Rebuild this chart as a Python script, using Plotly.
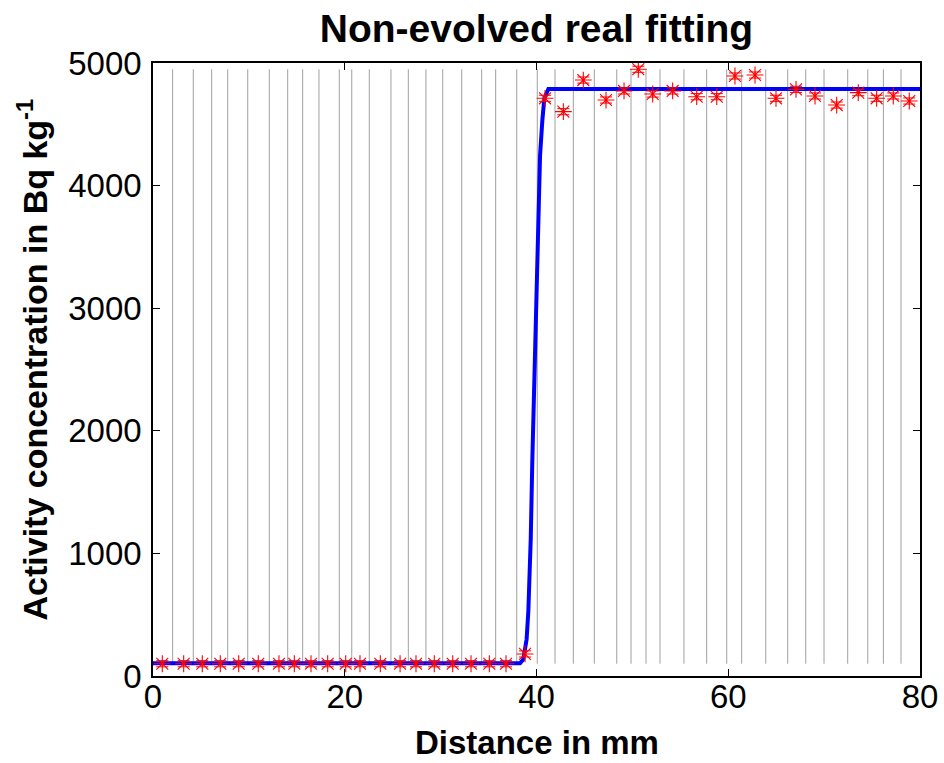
import plotly.graph_objects as go

# Slice centres (mm) and measured activity (Bq/kg)
dist_mm = [0.97, 3.2, 5.14, 7.02, 8.94, 10.98, 13.14, 14.74, 16.48, 18.22,
           20.1, 21.59, 23.71, 25.77, 27.43, 29.34, 31.26, 33.17, 35.08, 36.82,
           38.8, 40.89, 42.8, 44.88, 47.25, 49.13, 50.62, 52.12, 54.2, 56.71,
           58.8, 60.7, 62.79, 64.98, 67.07, 69.05, 71.31, 73.56, 75.48, 77.21,
           78.88]
activity = [100, 100, 100, 100, 100, 100, 100, 100, 100, 100,
            100, 100, 100, 100, 100, 100, 100, 100, 100, 100,
            180, 4712, 4603, 4861, 4698, 4772, 4949, 4747, 4772, 4725,
            4725, 4894, 4902, 4712, 4785, 4731, 4657, 4758, 4712, 4731,
            4690]
err = [25] * len(activity)

# Slice boundaries (mm)
boundaries = [2.05, 4.2, 6.12, 7.79, 9.88, 12.13, 14.05, 15.61, 17.31, 19.43,
              20.73, 22.56, 24.82, 26.63, 28.47, 30.22, 32.2, 34.28, 35.74,
              37.94, 40.08, 41.93, 43.84, 46.03, 48.37, 49.86, 51.42, 52.88,
              55.38, 57.75, 59.84, 61.4, 63.91, 66.2, 68.08, 69.99, 72.46,
              74.55, 76.18, 78.02]

# Fitted curve
fit_x = [0, 38.28, 38.62, 38.97, 39.15, 39.4, 39.56, 39.77, 39.95, 40.19,
         40.37, 40.61, 40.82, 41.24, 80]
fit_y = [103, 103, 135, 300, 530, 1120, 1743, 2432, 3138, 3777,
         4244, 4533, 4713, 4788, 4788]

x_ticks = [0, 20, 40, 60, 80]
y_ticks = [0, 1000, 2000, 3000, 4000, 5000]

y_lo, y_hi = min(activity), max(activity)
bx, by = [], []
for b in boundaries:
    bx += [b, b, None]
    by += [y_lo, y_hi, None]

fig = go.Figure()
fig.add_trace(go.Scatter(x=bx, y=by, mode="lines",
                         line=dict(color="rgb(160,160,160)", width=1),
                         hoverinfo="skip", showlegend=False))
fig.add_trace(go.Scatter(x=fit_x, y=fit_y, mode="lines",
                         line=dict(color="rgb(0,0,255)", width=4),
                         showlegend=False))
fig.add_trace(go.Scatter(x=dist_mm, y=activity, mode="markers",
                         marker=dict(symbol="asterisk-open", size=14,
                                     line=dict(color="red", width=1.1),
                                     color="red"),
                         error_y=dict(type="data", array=err, color="red",
                                      thickness=1, width=6),
                         showlegend=False))

font_family = "Liberation Sans, Arial, sans-serif"
fig.update_layout(
    width=944, height=763,
    margin=dict(l=153, r=24, t=63, b=87),
    paper_bgcolor="white", plot_bgcolor="white",
    title=dict(text="<b>Non-evolved real fitting</b>", x=0.5, xanchor="center",
               xref="paper", yref="container",
               y=1 - 28 / 763, yanchor="middle",
               font=dict(family=font_family, size=39, color="black")),
    font=dict(family=font_family, color="black"),
    annotations=[
        dict(text="<b>Distance in mm</b>", xref="paper", yref="paper",
             x=0.5, y=0, xanchor="center", yanchor="middle", yshift=-66,
             showarrow=False, font=dict(size=33, family=font_family, color="black")),
        dict(text="<b>Activity concentration in Bq kg<sup>-1</sup></b>",
             xref="paper", yref="paper", x=0, y=0.5, xanchor="center",
             yanchor="middle", xshift=-121, yshift=10, textangle=-90,
             showarrow=False, font=dict(size=34, family=font_family, color="black")),
    ],
)
fig.update_xaxes(range=[0, 80], tickvals=x_ticks, automargin=False,
                 ticks="inside", ticklen=7, tickcolor="black", tickwidth=1,
                 showline=True, linecolor="black", linewidth=1.5, mirror="ticks",
                 showgrid=False, zeroline=False, ticklabelstandoff=-9,
                 tickfont=dict(size=33, family=font_family))
fig.update_yaxes(range=[0, 5000], tickvals=y_ticks, automargin=False,
                 ticks="inside", ticklen=7, tickcolor="black", tickwidth=1,
                 showline=True, linecolor="black", linewidth=1.5, mirror="ticks",
                 showgrid=False, zeroline=False, ticklabelstandoff=3,
                 tickfont=dict(size=33, family=font_family))

fig.write_html("out.html", config={"displayModeBar": False},
               post_script="document.body.style.margin='0';document.body.style.padding='0';")
